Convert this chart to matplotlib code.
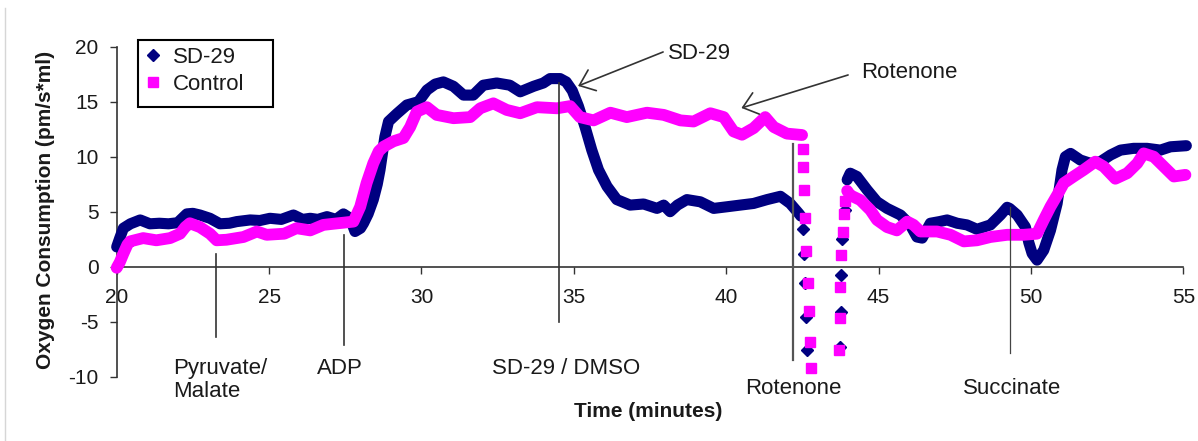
import matplotlib
matplotlib.use("Agg")
import matplotlib.pyplot as plt
from matplotlib.lines import Line2D
from matplotlib.patches import Rectangle
import numpy as np

plt.rcParams['font.family'] = ['Liberation Sans', 'DejaVu Sans']
plt.rcParams['axes.unicode_minus'] = False

# Oxygen consumption traces: time (minutes) and rate (pm/s*ml)
sd29_time = [20.0, 20.1, 20.22, 20.45, 20.77, 21.09, 21.4, 21.7, 22.0, 22.3, 22.5,
             22.73, 23.06, 23.39, 23.7, 23.94, 24.38, 24.7, 25.03, 25.4, 25.8, 26.1,
             26.35, 26.6, 26.9, 27.2, 27.44, 27.66, 27.82, 28.0, 28.1, 28.25, 28.42,
             28.55, 28.64, 28.72, 28.8, 28.92, 29.19, 29.52, 29.9, 30.18, 30.45,
             30.72, 31.05, 31.38, 31.7, 32.03, 32.47, 32.9, 33.24, 33.68, 34.0,
             34.22, 34.55, 34.75, 34.95, 35.15, 35.37, 35.59, 35.81, 36.09, 36.41,
             36.85, 37.29, 37.73, 37.95, 38.16, 38.4, 38.71, 39.15, 39.59, 40.03,
             40.46, 40.9, 41.34, 41.78, 42.1, 42.38, 42.45,
             42.52, 42.54, 42.57, 42.62, 42.65,
             43.75, 43.76, 43.77, 43.8, 43.91,
             43.97, 44.07, 44.29, 44.62, 44.95, 45.28, 45.72, 46.04, 46.26, 46.43,
             46.7, 47.0, 47.25, 47.58, 47.9, 48.23, 48.67, 49.0, 49.22, 49.3, 49.55,
             49.66, 49.82, 49.93, 50.04, 50.2, 50.42, 50.64, 50.86, 51.02, 51.13,
             51.3, 51.62, 51.95, 52.28, 52.61, 52.94, 53.37, 53.81, 54.25, 54.58,
             55.1]
sd29_rate = [1.8, 2.6, 3.5, 3.9, 4.25, 3.9, 3.95, 3.9, 4.0, 4.8, 4.85,
             4.7, 4.4, 3.9, 3.95, 4.1, 4.25, 4.2, 4.4, 4.3, 4.7, 4.3,
             4.4, 4.3, 4.55, 4.3, 4.8, 4.4, 3.2, 3.5, 3.95, 4.8, 6.1,
             7.5, 8.8, 10.3, 11.8, 13.2, 13.9, 14.7, 15.0, 16.06, 16.6,
             16.8, 16.4, 15.6, 15.6, 16.5, 16.7, 16.5, 15.9, 16.4, 16.7,
             17.1, 17.1, 16.8, 16.0, 14.6, 12.7, 10.6, 8.8, 7.3, 6.1,
             5.6, 5.7, 5.3, 5.6, 5.0, 5.6, 6.1, 5.9, 5.3, 5.45,
             5.6, 5.75, 6.1, 6.4, 5.75, 4.85, 4.6,
             3.4, 1.2, -1.5, -4.55, -7.57,
             -7.27, -4.1, -0.75, 2.5, 5.15,
             7.9, 8.5, 8.2, 7.0, 5.9, 5.3, 4.7, 3.8, 2.7, 2.6,
             3.95, 4.1, 4.25, 3.95, 3.8, 3.4, 3.8, 4.7, 5.4, 5.3, 4.7,
             4.25, 3.6, 2.2, 1.2, 0.6, 1.5, 3.3, 5.75, 8.8, 10.0,
             10.3, 9.7, 9.4, 9.55, 10.15, 10.6, 10.76, 10.76, 10.6, 10.9,
             11.0]

control_time = [20.0, 20.1, 20.22, 20.35, 20.44, 20.87, 21.3, 21.75, 22.08, 22.25,
                22.4, 22.73, 23.06, 23.28, 23.6, 24.16, 24.6, 24.92, 25.5, 25.9,
                26.35, 26.78, 27.1, 27.44, 27.77, 27.99, 28.2, 28.42, 28.6, 28.75,
                29.08, 29.41, 29.63, 29.85, 30.18, 30.5, 31.05, 31.6, 31.93, 32.36,
                32.8, 33.24, 33.79, 34.45, 34.88, 35.2, 35.65, 36.2, 36.74, 37.4,
                37.95, 38.5, 38.93, 39.48, 39.92, 40.24, 40.52, 40.9, 41.28, 41.56,
                41.99, 42.38, 42.49,
                42.52, 42.53, 42.55, 42.6, 42.63, 42.7, 42.73, 42.75, 42.78,
                43.69, 43.72, 43.75, 43.78, 43.82, 43.85, 43.9,
                43.97, 44.07, 44.4, 44.73, 44.95, 45.28, 45.6, 45.94, 46.15,
                46.37, 46.92, 47.36, 47.8, 48.23, 48.67, 49.22, 49.76, 50.2, 50.42,
                50.64, 50.86, 51.08, 51.4, 51.73, 52.11, 52.39, 52.77, 53.16, 53.49,
                53.7, 54.03, 54.36, 54.69, 55.07]
control_rate = [-0.1, 0.4, 1.2, 2.0, 2.3, 2.6, 2.4, 2.6, 3.0, 3.6,
                3.95, 3.6, 3.0, 2.4, 2.45, 2.7, 3.2, 2.9, 3.0, 3.5,
                3.3, 3.8, 3.9, 4.0, 4.1, 5.45, 7.6, 9.4, 10.5, 10.9,
                11.4, 11.7, 12.7, 14.1, 14.5, 13.8, 13.5, 13.6, 14.4, 14.85,
                14.25, 13.95, 14.5, 14.4, 14.6, 13.6, 13.3, 14.0, 13.6, 14.0,
                13.8, 13.3, 13.2, 13.95, 13.6, 12.3, 12.0, 12.6, 13.6, 12.7,
                12.1, 12.0, 11.97,
                10.67, 9.1, 6.97, 4.4, 1.45, -1.45, -4.0, -6.8, -9.24,
                -7.57, -4.7, -1.8, 1.06, 3.2, 4.76, 6.0,
                6.9, 6.5, 6.06, 5.15, 4.25, 3.6, 3.3, 4.1, 3.8,
                3.2, 3.2, 2.9, 2.3, 2.4, 2.7, 2.9, 2.9, 3.0, 4.25,
                5.45, 6.5, 7.6, 8.2, 8.8, 9.55, 9.1, 8.0, 8.5, 9.4,
                10.3, 10.0, 9.1, 8.2, 8.35]

series_names = ["SD-29", "Control"]

# Substrate / inhibitor additions
event_labels = ["Pyruvate/\nMalate", "ADP", "SD-29 / DMSO", "Rotenone", "Succinate"]
event_times = [23.26, 27.46, 34.52, 42.19, 49.30]

x_ticks = [20, 25, 30, 35, 40, 45, 50, 55]
y_ticks = [-10, -5, 0, 5, 10, 15, 20]

# ---------------------------------------------------------------- layout
W, H = 1198, 441
NAVY = "#000080"
MAGENTA = "#ff00ff"
INK = "#1a1a1a"
AXIS = "#333333"

fig = plt.figure(figsize=(W / 100, H / 100), dpi=100)
fig.patch.set_facecolor("white")
ax = fig.add_axes([116.7 / W, 1 - 376.7 / H, 1066.6 / W, 330 / H])
ax.set_xlim(20, 55)
ax.set_ylim(-10, 20)

for side in ("top", "right"):
    ax.spines[side].set_visible(False)
ax.spines["bottom"].set_position(("data", 0))
for side in ("left", "bottom"):
    ax.spines[side].set_color(AXIS)
    ax.spines[side].set_linewidth(1.2)

ax.set_xticks(x_ticks)
ax.set_yticks(y_ticks)
ax.tick_params(axis="x", direction="out", length=5, width=1, pad=10,
               labelsize=15, color=AXIS, labelcolor=INK)
ax.tick_params(axis="y", direction="out", length=5, width=1, pad=8,
               labelsize=15, color=AXIS, labelcolor=INK)

# The rotenone titration is sampled faster than the trace moves, so samples
# inside this window are drawn as separate points instead of a band.
FAST_WINDOW = (42.5, 43.94)


def draw_trace(t, v, color, marker, ms, lw, z):
    t = np.asarray(t)
    v = np.asarray(v)
    fast = (t > FAST_WINDOW[0]) & (t < FAST_WINDOW[1])
    for part in (t <= FAST_WINDOW[0], t >= FAST_WINDOW[1]):
        ax.plot(t[part], v[part], color=color, lw=lw, solid_capstyle="round",
                solid_joinstyle="round", clip_on=False, zorder=z)
    ax.plot(t[fast], v[fast], ls="none", marker=marker, ms=ms, color=color,
            mec=color, clip_on=False, zorder=z)


draw_trace(sd29_time, sd29_rate, NAVY, "D", 6, 8.0, 3)
draw_trace(control_time, control_rate, MAGENTA, "s", 6.5, 8.5, 4)

# Addition markers and their labels
event_spans = [(1.15, -6.4), (2.9, -7.1), (16.7, -5.0), (11.2, -8.5), (5.4, -7.8)]
event_text_pos = [(21.85, -8.3), (26.58, -8.3), (32.32, -8.3), (40.63, -10.12), (47.78, -10.12)]
event_line_style = [(AXIS, 1.2), (AXIS, 1.2), (AXIS, 1.2), ("#555555", 1.6), ("#444444", 0.9)]
for t, (top, bot), (tx, ty), (c, w), lab in zip(event_times, event_spans, event_text_pos,
                                                event_line_style, event_labels):
    ax.plot([t, t], [top, bot], color=c, lw=w, clip_on=False, zorder=5)
    ax.text(tx, ty, lab, fontsize=16, color=INK, ha="left", va="top",
            linespacing=1.15, clip_on=False)

# Callouts
arrow_kw = dict(arrowstyle="->,head_length=0.5,head_width=0.4", color=AXIS, lw=1.2,
                mutation_scale=20, shrinkA=0, shrinkB=0)
ax.annotate("", xy=(35.14, 16.43), xytext=(37.93, 19.52), arrowprops=arrow_kw,
            annotation_clip=False, zorder=6)
ax.text(38.1, 20.3, "SD-29", fontsize=16, color=INK, ha="left", va="top", clip_on=False)
ax.annotate("", xy=(40.5, 14.43), xytext=(44.0, 17.43), arrowprops=arrow_kw,
            annotation_clip=False, zorder=6)
ax.text(44.42, 18.64, "Rotenone", fontsize=16, color=INK, ha="left", va="top", clip_on=False)

# Axis titles
ax.set_xlabel("Time (minutes)", fontsize=15, fontweight="bold", color=INK, va="top")
ax.xaxis.set_label_coords((648 - 116.7) / 1066.6, (376.7 - 402) / 330)
ax.set_ylabel("Oxygen Consumption (pm/s*ml)", fontsize=15, fontweight="bold",
              color=INK, va="center")
ax.yaxis.set_label_coords((46 - 116.7) / 1066.6, (376.7 - 210) / 330)

# Legend
handles = [Line2D([], [], ls="none", marker="D", ms=6, color=NAVY),
           Line2D([], [], ls="none", marker="s", ms=6.5, color=MAGENTA)]
fig.legend(handles, series_names, loc="upper left",
           bbox_to_anchor=(145.7 / W, 1 - 46.6 / H), bbox_transform=fig.transFigure,
           frameon=False, fontsize=16, handlelength=0.66, handletextpad=0.58,
           borderpad=0, borderaxespad=0, labelspacing=0.3, labelcolor=INK)
fig.patches.append(Rectangle((138 / W, 1 - 107 / H), 135 / W, 67 / H,
                             transform=fig.transFigure, fill=False,
                             ec="black", lw=1.5))

# Thin frame edge on the left of the canvas
fig.add_artist(Line2D([5 / W, 5 / W], [0, 1 - 8 / H], transform=fig.transFigure,
                      color="#d6d6d6", lw=1))

fig.savefig("out.png", dpi=100)
